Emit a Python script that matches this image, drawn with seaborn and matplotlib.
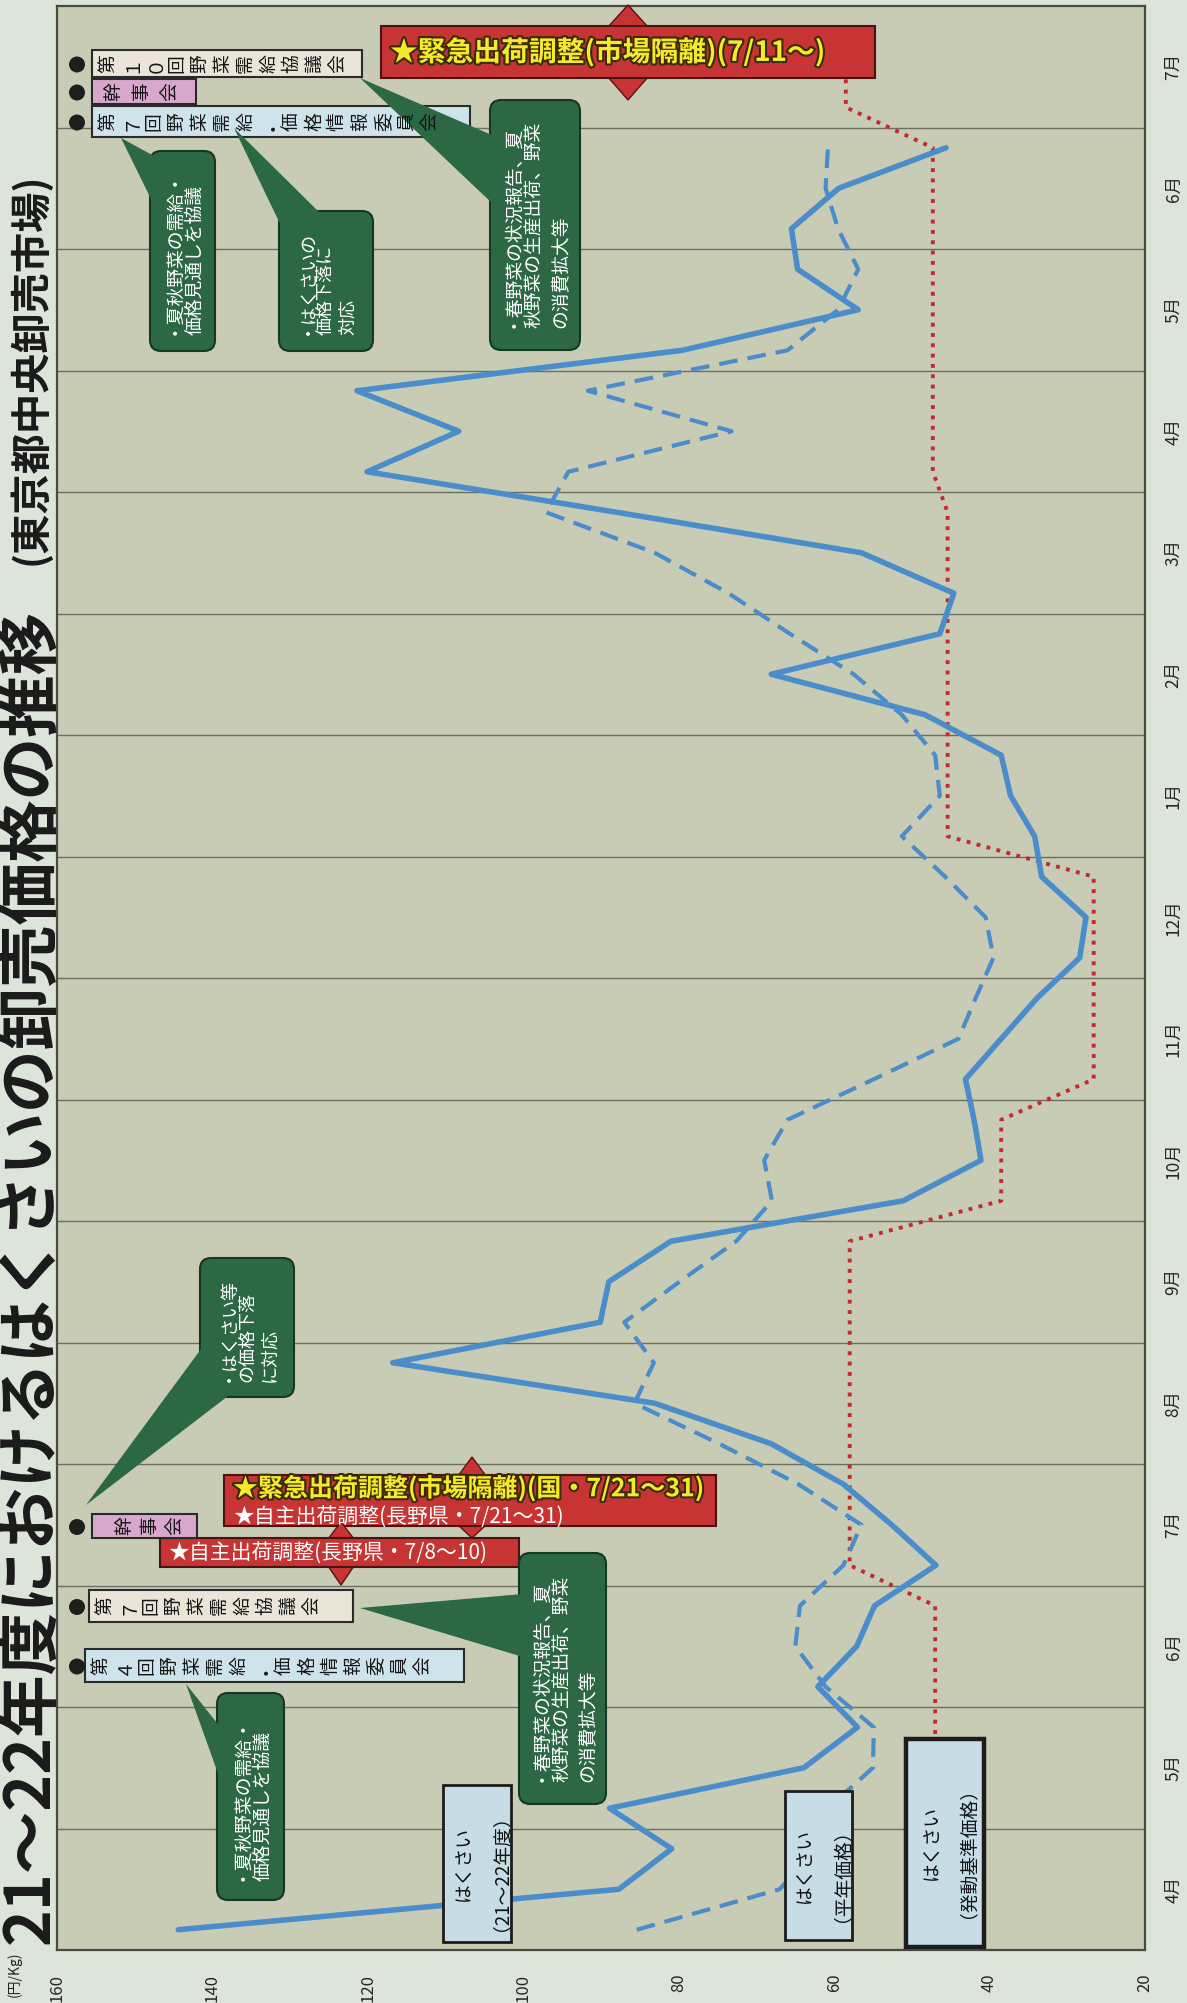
import numpy as np
import pandas as pd
import matplotlib
matplotlib.use("Agg")
import matplotlib.pyplot as plt
import matplotlib.patheffects as pe
from matplotlib.patches import FancyBboxPatch, Rectangle, Polygon, Circle
from matplotlib.transforms import Affine2D
import seaborn as sns

# months shown along the (rotated) time axis, 4月 of year 21 up to 7月 of year 22
months = ["4月", "5月", "6月", "7月", "8月", "9月", "10月", "11月", "12月",
          "1月", "2月", "3月", "4月", "5月", "6月", "7月"]

# はくさい 21~22年度 (円/kg), 3 values per month (上旬/中旬/下旬)
price_2122 = [144.4, 87.7, 80.9, 88.9, 63.9, 57.0, 62.1, 57.1, 54.8,
              46.9, 52.6, 58.8, 68.1, 83.1, 116.8, 90.1, 89.0, 81.0,
              51.1, 41.1, 42.0, 43.1, 38.5, 33.9, 28.4, 27.6, 33.3,
              34.2, 37.3, 38.5, 48.3, 68.1, 46.4, 44.6, 56.5, 88.0,
              120.1, 108.3, 121.4, 79.5, 56.9, 64.7, 65.5, 59.4, 45.6]

# はくさい 平年価格
price_normal = [85.4, 67.0, 62.5, 60.8, 55.0, 54.9, 61.1, 65.0, 64.4,
                58.8, 56.5, 64.6, 74.8, 85.7, 83.2, 87.0, 79.9, 72.6,
                68.0, 69.0, 66.0, 54.9, 44.0, 41.8, 39.5, 40.5, 45.7,
                51.3, 46.4, 47.0, 51.3, 57.5, 65.7, 73.6, 83.1, 97.1,
                94.2, 73.2, 91.7, 66.0, 59.5, 56.9, 59.5, 61.1, 60.8]

# はくさい 発動基準価格
price_trigger = [47.0, 47.0, 47.0, 47.0, 47.0, 47.0, 47.0, 47.0, 47.0,
                 58.0, 58.0, 58.0, 58.0, 58.0, 58.0, 58.0, 58.0, 58.0,
                 38.5, 38.5, 38.5, 26.6, 26.6, 26.6, 26.6, 26.6, 26.6,
                 45.4, 45.4, 45.4, 45.4, 45.4, 45.4, 45.4, 45.4, 45.4,
                 47.3, 47.3, 47.3, 47.3, 47.3, 47.3, 47.3, 47.3, 47.3,
                 58.5, 58.5]

price_ticks = [160, 140, 120, 100, 80, 60, 40, 20]

W, H = 1187, 2003
page_bg = "#dde4d9"
plot_bg = "#c9ccb5"
blue = "#4b8dcb"
red = "#c42a2c"
green = "#2c6844"
box_red = "#c63434"

sns.set_style("white")
plt.rcParams["font.family"] = ["Noto Sans CJK JP", "DejaVu Sans"]

fig = plt.figure(figsize=(W / 100, H / 100), dpi=100, facecolor=page_bg)
px = Affine2D().scale(1.0 / W, -1.0 / H).translate(0, 1) + fig.transFigure

ax = fig.add_axes([57 / W, 1 - 1950 / H, (1145 - 57) / W, (1950 - 6) / H])
ax.set_facecolor(plot_bg)


def jun_frame(values, name):
    t = (np.arange(len(values)) + 0.5) / 3
    return pd.DataFrame({"price": values, "time": t, "series": name})


df_a = jun_frame(price_2122, "21~22")
df_n = jun_frame(price_normal, "平年")
df_t = jun_frame(price_trigger, "発動基準")

sns.lineplot(data=df_t, x="price", y="time", sort=False, estimator=None,
             color=red, lw=2.8, linestyle=":", ax=ax, zorder=3)
sns.lineplot(data=df_n, x="price", y="time", sort=False, estimator=None,
             color=blue, lw=3.0, linestyle=(0, (4.5, 2.4)), ax=ax, zorder=4)
sns.lineplot(data=df_a, x="price", y="time", sort=False, estimator=None,
             color=blue, lw=4.0, ax=ax, zorder=5)

ax.set_xlim(160, 20)
ax.set_ylim(0, len(months))
ax.set_xlabel("")
ax.set_ylabel("")
ax.set_xticks(price_ticks)
ax.set_xticklabels([str(v) for v in price_ticks], rotation=90, fontsize=12)
ax.tick_params(axis="x", direction="in", length=6, width=1, color="#444", pad=17)
ax.yaxis.tick_right()
ax.set_yticks(np.arange(len(months)) + 0.5)
ax.set_yticklabels(months, rotation=90, va="center", fontsize=12.5)
ax.tick_params(axis="y", length=0, pad=14)
ax.set_yticks(np.arange(1, len(months)), minor=True)
ax.tick_params(axis="y", which="minor", length=0)
ax.grid(False)
ax.grid(True, which="minor", axis="y", color="#6c6d60", lw=1.0)
for s in ax.spines.values():
    s.set_visible(True)
    s.set_color("#4a4a44")
    s.set_linewidth(1.6)

# title and unit (chart is printed rotated)
fig.text(30, 1944, "21～22年度におけるはくさいの卸売価格の推移", rotation=90,
         ha="center", va="bottom", fontsize=45, fontweight="bold", color="#1a1a1a", transform=px)
fig.text(30, 565, "(東京都中央卸売市場)", rotation=90, ha="center", va="bottom",
         fontsize=29, fontweight="bold", color="#1a1a1a", transform=px)
fig.text(14, 1974, "(円/Kg)", rotation=90, ha="center", va="center", fontsize=10,
         color="#222", transform=px)


def rect(x0, y0, x1, y1, fc, ec="#2a2a2a", lw=1.5, z=5):
    fig.add_artist(Rectangle((x0, y0), x1 - x0, y1 - y0, fc=fc, ec=ec, lw=lw,
                             transform=px, zorder=z))


def sideways(text, x0, yc, step, size, color="#151515"):
    # tategaki label printed on its side: characters turned, running left to right
    x = x0
    for ch in text:
        fig.text(x + step / 2, yc, ch, rotation=90, ha="center", va="center",
                 fontsize=size, color=color, transform=px, zorder=7)
        x += step


def meeting(x0, y0, x1, y1, fc, text, step, tx=None):
    rect(x0, y0, x1, y1, fc)
    sideways(text, (x0 + 4) if tx is None else tx, (y0 + y1) / 2, step, 13.5)
    fig.add_artist(Circle((77, (y0 + y1) / 2 + 1), 8, fc="#1e1e1e", ec="none",
                          transform=px, zorder=6))


def callout(x0, y0, x1, y1, tip, base, text, size):
    fig.add_artist(FancyBboxPatch((x0, y0), x1 - x0, y1 - y0,
                                  boxstyle="round,pad=0,rounding_size=11",
                                  fc=green, ec="#163822", lw=1.5, transform=px, zorder=5))
    fig.add_artist(Polygon([tip, base[0], base[1]], closed=True, fc=green, ec="none",
                           transform=px, zorder=5.5))
    fig.text((x0 + x1) / 2, (y0 + y1) / 2, text, rotation=90, ha="center", va="center",
             multialignment="left", fontsize=size, color="white", linespacing=1.3,
             transform=px, zorder=7)


def diamond(x, top, btop, bbot, bot, hw):
    fig.add_artist(Polygon([(x, top), (x + hw, btop), (x + hw, bbot), (x, bot),
                            (x - hw, bbot), (x - hw, btop)], closed=True,
                           fc=box_red, ec="#5a1212", lw=1, transform=px, zorder=5))


def legend_box(x0, y0, x1, y1, text, lw=2.0):
    rect(x0, y0, x1, y1, "#c6dde6", ec="#1c1c1c", lw=lw, z=6)
    fig.text((x0 + x1) / 2, (y0 + y1) / 2, text, rotation=90, ha="center", va="center",
             fontsize=13.5, color="#111", linespacing=1.45, transform=px, zorder=7)


yellow_fx = [pe.withStroke(linewidth=3, foreground="#3b2b05")]

# ---- year 21 annotations (bottom part) ----
diamond(472, 1457, 1476, 1525, 1538, 14)
rect(224, 1475, 716, 1526, box_red, ec="#4a1212")
fig.text(233, 1488, "★緊急出荷調整(市場隔離)(国・7/21～31)", ha="left", va="center",
         fontsize=18, fontweight="bold", color="#f4ea2a", path_effects=yellow_fx,
         transform=px, zorder=7)
fig.text(233, 1517, "★自主出荷調整(長野県・7/21～31)", ha="left", va="center",
         fontsize=15, color="white", transform=px, zorder=7)
diamond(341, 1522, 1539, 1566, 1585, 13)
rect(160, 1538, 519, 1567, box_red, ec="#4a1212")
fig.text(168, 1553, "★自主出荷調整(長野県・7/8～10)", ha="left", va="center",
         fontsize=15, color="white", transform=px, zorder=7)

meeting(92, 1514, 197, 1538, "#d8a8cc", "幹事会", 25, tx=112)
meeting(89, 1590, 353, 1622, "#ebe5d9", "第７回野菜需給協議会", 23)
meeting(85, 1649, 464, 1682, "#cfe3ea", "第４回野菜需給・価格情報委員会", 23)

callout(217, 1693, 284, 1900, (186, 1684), [(221, 1728), (221, 1782)],
        "・夏秋野菜の需給・\n価格見通しを協議", 13.5)
callout(519, 1553, 606, 1804, (360, 1608), [(523, 1594), (523, 1657)],
        "・春野菜の状況報告、夏\n秋野菜の生産出荷、野菜\nの消費拡大等", 13.5)
callout(200, 1258, 294, 1397, (86, 1505), [(204, 1345), (232, 1393)],
        "・はくさい等\nの価格下落\nに対応", 13)

legend_box(443, 1785, 511, 1942, "はくさい\n（21～22年度）")
legend_box(785, 1791, 852, 1940, "はくさい\n（平年価格）")
legend_box(906, 1739, 984, 1947, "はくさい\n（発動基準価格）", lw=3.2)

# ---- year 22 annotations (top part) ----
meeting(92, 50, 362, 77, "#ebe5d9", "第１０回野菜需給協議会", 23)
meeting(92, 79, 196, 104, "#d8a8cc", "幹事会", 28, tx=100)
meeting(92, 106, 470, 137, "#cfe3ea", "第７回野菜需給・価格情報委員会", 23)

diamond(628, 5, 27, 77, 100, 20)
rect(381, 26, 875, 78, box_red, ec="#4a1212")
fig.text(390, 52, "★緊急出荷調整(市場隔離)(7/11～)", ha="left", va="center",
         fontsize=20, fontweight="bold", color="#f4ea2a", path_effects=yellow_fx,
         transform=px, zorder=7)

callout(150, 151, 215, 351, (121, 138), [(154, 156), (154, 205)],
        "・夏秋野菜の需給・\n価格見通しを協議", 13.5)
callout(279, 211, 373, 351, (234, 128), [(283, 230), (322, 215)],
        "・はくさいの\n価格下落に\n対応", 13)
callout(490, 100, 580, 350, (360, 78), [(494, 136), (494, 205)],
        "・春野菜の状況報告、夏\n秋野菜の生産出荷、野菜\nの消費拡大等", 13.5)

fig.savefig("out.png", dpi=100, facecolor=page_bg)
